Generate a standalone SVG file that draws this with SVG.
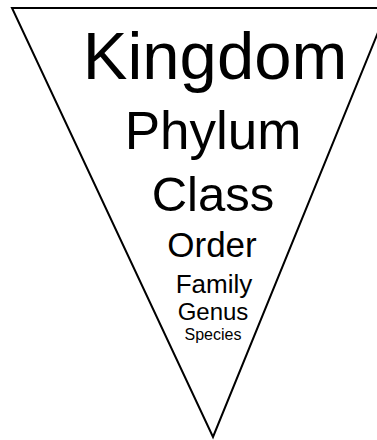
<svg xmlns="http://www.w3.org/2000/svg" width="377" height="440" viewBox="0 0 377 440">
<style>
.t{font-family:"Liberation Sans",Arial,sans-serif;fill:#000;text-anchor:middle}
</style>
<rect width="377" height="440" fill="#fff"/>
<g id="triangle">
<polygon points="12,8 388,8 213,437" fill="#fff" stroke="#000" stroke-width="2" stroke-linejoin="miter"/>
</g>
<g id="kingdom"><text class="t" x="215" y="79" font-size="67">Kingdom</text></g>
<g id="phylum"><text class="t" x="213" y="149" font-size="53">Phylum</text></g>
<g id="class"><text class="t" x="213" y="211" font-size="49">Class</text></g>
<g id="order"><text class="t" x="212" y="257" font-size="35">Order</text></g>
<g id="family"><text class="t" x="214" y="293" font-size="26">Family</text></g>
<g id="genus"><text class="t" x="213" y="320" font-size="24">Genus</text></g>
<g id="species"><text class="t" x="213" y="340" font-size="16">Species</text></g>
</svg>
